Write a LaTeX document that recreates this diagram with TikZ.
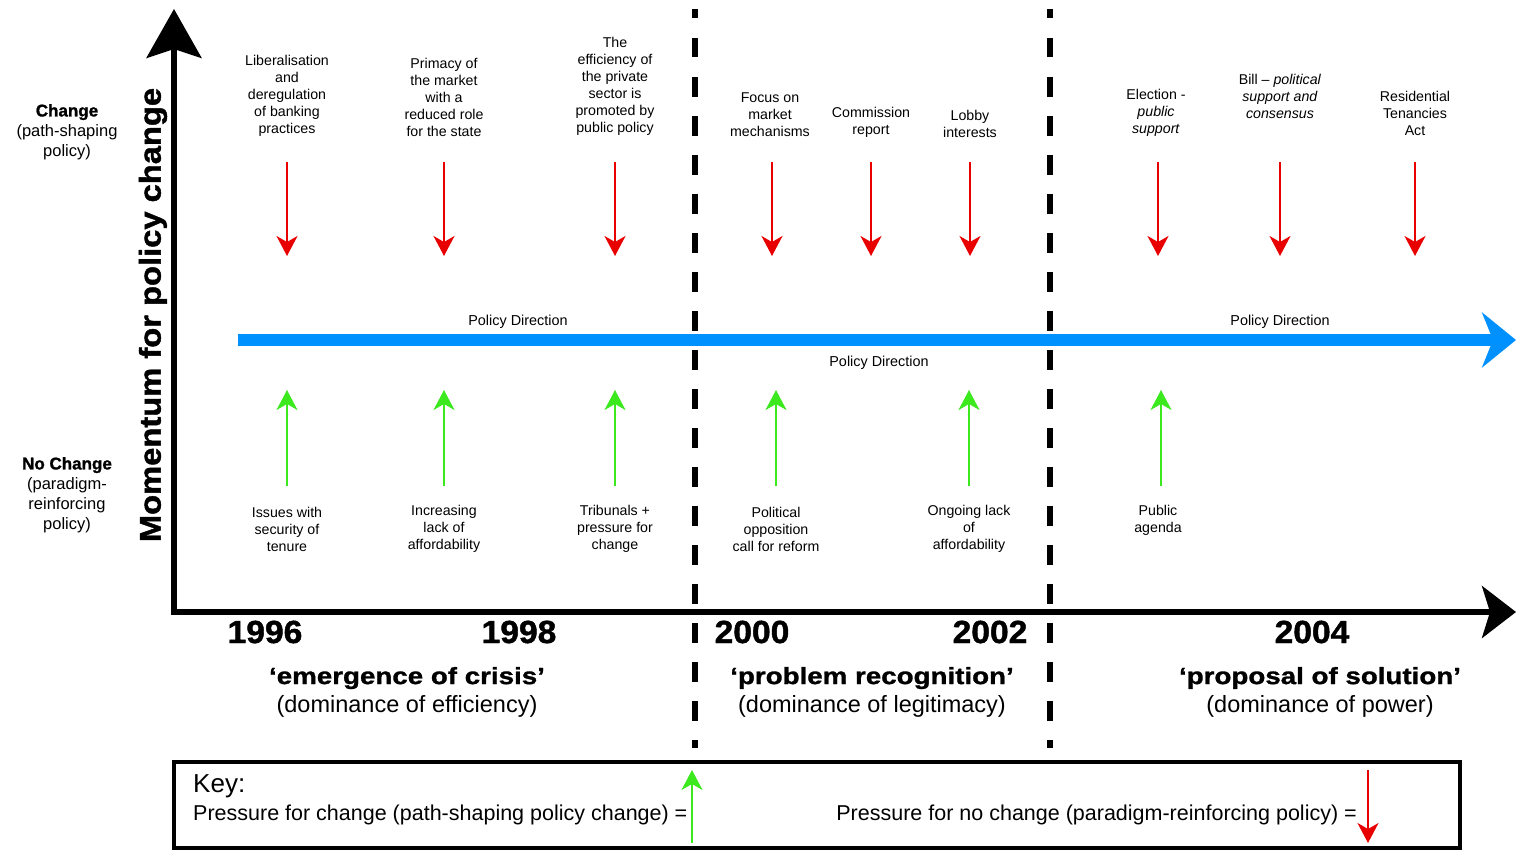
\documentclass[tikz,border=0pt]{standalone}
\usepackage{fontspec}
\setmainfont{Liberation Sans}
\newfontfamily\heavyfont[FakeBold=1.3]{Liberation Sans Bold}
\newfontfamily\yearfont[FakeBold=1.3,FakeStretch=1.05]{Liberation Sans Bold}
\newfontfamily\momfont[FakeBold=1.4,FakeStretch=1.09]{Liberation Sans Bold}
\newfontfamily\widefont[FakeBold=1.2,FakeStretch=1.18]{Liberation Sans Bold}
\usetikzlibrary{arrows.meta}
\definecolor{pushred}{RGB}{232,0,0}
\definecolor{pushgreen}{RGB}{60,232,30}
\definecolor{dirblue}{RGB}{0,145,255}
\begin{document}
\begin{tikzpicture}[x=1pt,y=-1pt,
  lbl/.style={font=\fontsize{14.2}{17}\selectfont, align=center, inner sep=0pt},
  side/.style={font=\fontsize{16.5}{20}\selectfont, align=center, inner sep=0pt},
  yearlbl/.style={font=\fontsize{32}{32}\selectfont\yearfont, inner sep=0pt},
  phase/.style={font=\fontsize{23.5}{28}\selectfont, align=center, inner sep=0pt},
  dirlbl/.style={font=\fontsize{14.4}{14}\selectfont, inner sep=0pt},
  keytxt/.style={font=\fontsize{21.5}{21.5}\selectfont, inner sep=0pt},
  redpush/.style={draw=pushred, line width=2pt, -{Stealth[length=20pt,width=21pt,inset=6pt]}},
  greenpush/.style={draw=pushgreen, line width=2pt, -{Stealth[length=20pt,width=21pt,inset=6pt]}},
  axis/.style={draw=black, line width=5.5pt},
  divider/.style={draw=black, line width=5.5pt, dash pattern=on 19.5pt off 19.5pt, dash phase=10pt},
  direction/.style={draw=dirblue, line width=11.5pt, -{Stealth[length=34pt,width=55pt,inset=11pt]}}
]
\useasboundingbox (0,0) rectangle (1516,851);

% phase dividers
\coordinate (d1top) at (695,9);   \coordinate (d1bot) at (695,748);
\coordinate (d2top) at (1050,9);  \coordinate (d2bot) at (1050,748);
\draw[divider] (d1top) -- (d1bot);
\draw[divider] (d2top) -- (d2bot);

% axes
\coordinate (yfoot) at (174,614.5);
\coordinate (ytip) at (174,9);
\coordinate (xfoot) at (171.5,612);
\coordinate (xtip) at (1516,612);
\draw[axis, -{Stealth[length=49pt,width=55pt,inset=9pt]}] (yfoot) -- (ytip);
\draw[axis, -{Stealth[length=34pt,width=52pt,inset=8pt]}] (xfoot) -- (xtip);

\node[rotate=90, font=\fontsize{30}{30}\selectfont\momfont, inner sep=0pt] (mom) at (153,315) {Momentum for policy change};

% side labels
\node[side] (chg) at (67,132) {{\fontsize{17}{20}\selectfont\heavyfont Change}\\(path-shaping\\policy)};
\node[side] (nochg) at (67,495) {{\fontsize{17}{20}\selectfont\heavyfont No Change}\\(paradigm-\\reinforcing\\policy)};

% policy direction
\coordinate (pdstart) at (238,340);
\coordinate (pdend) at (1516,340);
\draw[direction] (pdstart) -- (pdend);
\node[dirlbl] (pd1) at (518,322) {Policy Direction};
\node[dirlbl] (pd2) at (879,363) {Policy Direction};
\node[dirlbl] (pd3) at (1280,322) {Policy Direction};

% pressures towards change (top)
\node[lbl] (t1) at (287,96) {Liberalisation\\and\\deregulation\\of banking\\practices};
\node[lbl] (t2) at (444,97.5) {Primacy of\\the market\\with a\\reduced role\\for the state};
\node[lbl] (t3) at (615,86.5) {The\\efficiency of\\the private\\sector is\\promoted by\\public policy};
\node[lbl] (t4) at (770,115) {Focus on\\market\\mechanisms};
\node[lbl] (t5) at (871,122) {Commission\\report};
\node[lbl] (t6) at (970,123.5) {Lobby\\interests};
\node[lbl] (t7) at (1156,113) {Election -\\\textit{public}\\\textit{support}};
\node[lbl] (t8) at (1280,96) {Bill – \textit{political}\\\textit{support and}\\\textit{consensus}};
\node[lbl] (t9) at (1415,113) {Residential\\Tenancies\\Act};

\foreach \n/\x in {1/287,2/444,3/615,4/772,5/871,6/970,7/1158,8/1280,9/1415}{
  \coordinate (r\n a) at (\x,162);
  \coordinate (r\n b) at (\x,256);
  \draw[redpush] (r\n a) -- (r\n b);
}

% pressures against change (bottom)
\node[lbl] (b1) at (287,529) {Issues with\\security of\\tenure};
\node[lbl] (b2) at (444,529) {Increasing\\lack of\\affordability};
\node[lbl] (b3) at (615,529) {Tribunals +\\pressure for\\change};
\node[lbl] (b4) at (776,529) {Political\\opposition\\call for reform};
\node[lbl] (b5) at (969,529) {Ongoing lack\\of\\affordability};
\node[lbl] (b6) at (1158,520.5) {Public\\agenda};

\foreach \n/\x in {1/287,2/444,3/615,4/776,5/969,6/1161}{
  \coordinate (g\n a) at (\x,486);
  \coordinate (g\n b) at (\x,390);
  \draw[greenpush] (g\n a) -- (g\n b);
}

% years
\node[yearlbl] (y96) at (265,632) {1996};
\node[yearlbl] (y98) at (519,632) {1998};
\node[yearlbl] (y00) at (752,632) {2000};
\node[yearlbl] (y02) at (990,632) {2002};
\node[yearlbl] (y04) at (1312,632) {2004};

% phases
\node[phase] (ph1) at (407,692) {{\widefont ‘emergence of crisis’}\\(dominance of efficiency)};
\node[phase] (ph2) at (872,692) {{\widefont ‘problem recognition’}\\(dominance of legitimacy)};
\node[phase] (ph3) at (1320,692) {{\widefont ‘proposal of solution’}\\(dominance of power)};

% key
\node[draw=black, line width=4pt, minimum width=1286pt, minimum height=86pt, inner sep=0pt] (keybox) at (817,805) {};
\node[font=\fontsize{26}{26}\selectfont, anchor=west, inner sep=0pt] (keyhead) at (193,786) {Key:};
\node[keytxt, anchor=west] (keyg) at (193,815) {Pressure for change (path-shaping policy change) =};
\node[keytxt, anchor=east] (keyr) at (1357,815) {Pressure for no change (paradigm-reinforcing policy) =};
\coordinate (kga) at (692,843);
\coordinate (kgb) at (692,770);
\coordinate (kra) at (1368,770);
\coordinate (krb) at (1368,843);
\draw[greenpush] (kga) -- (kgb);
\draw[redpush] (kra) -- (krb);
\end{tikzpicture}
\end{document}
